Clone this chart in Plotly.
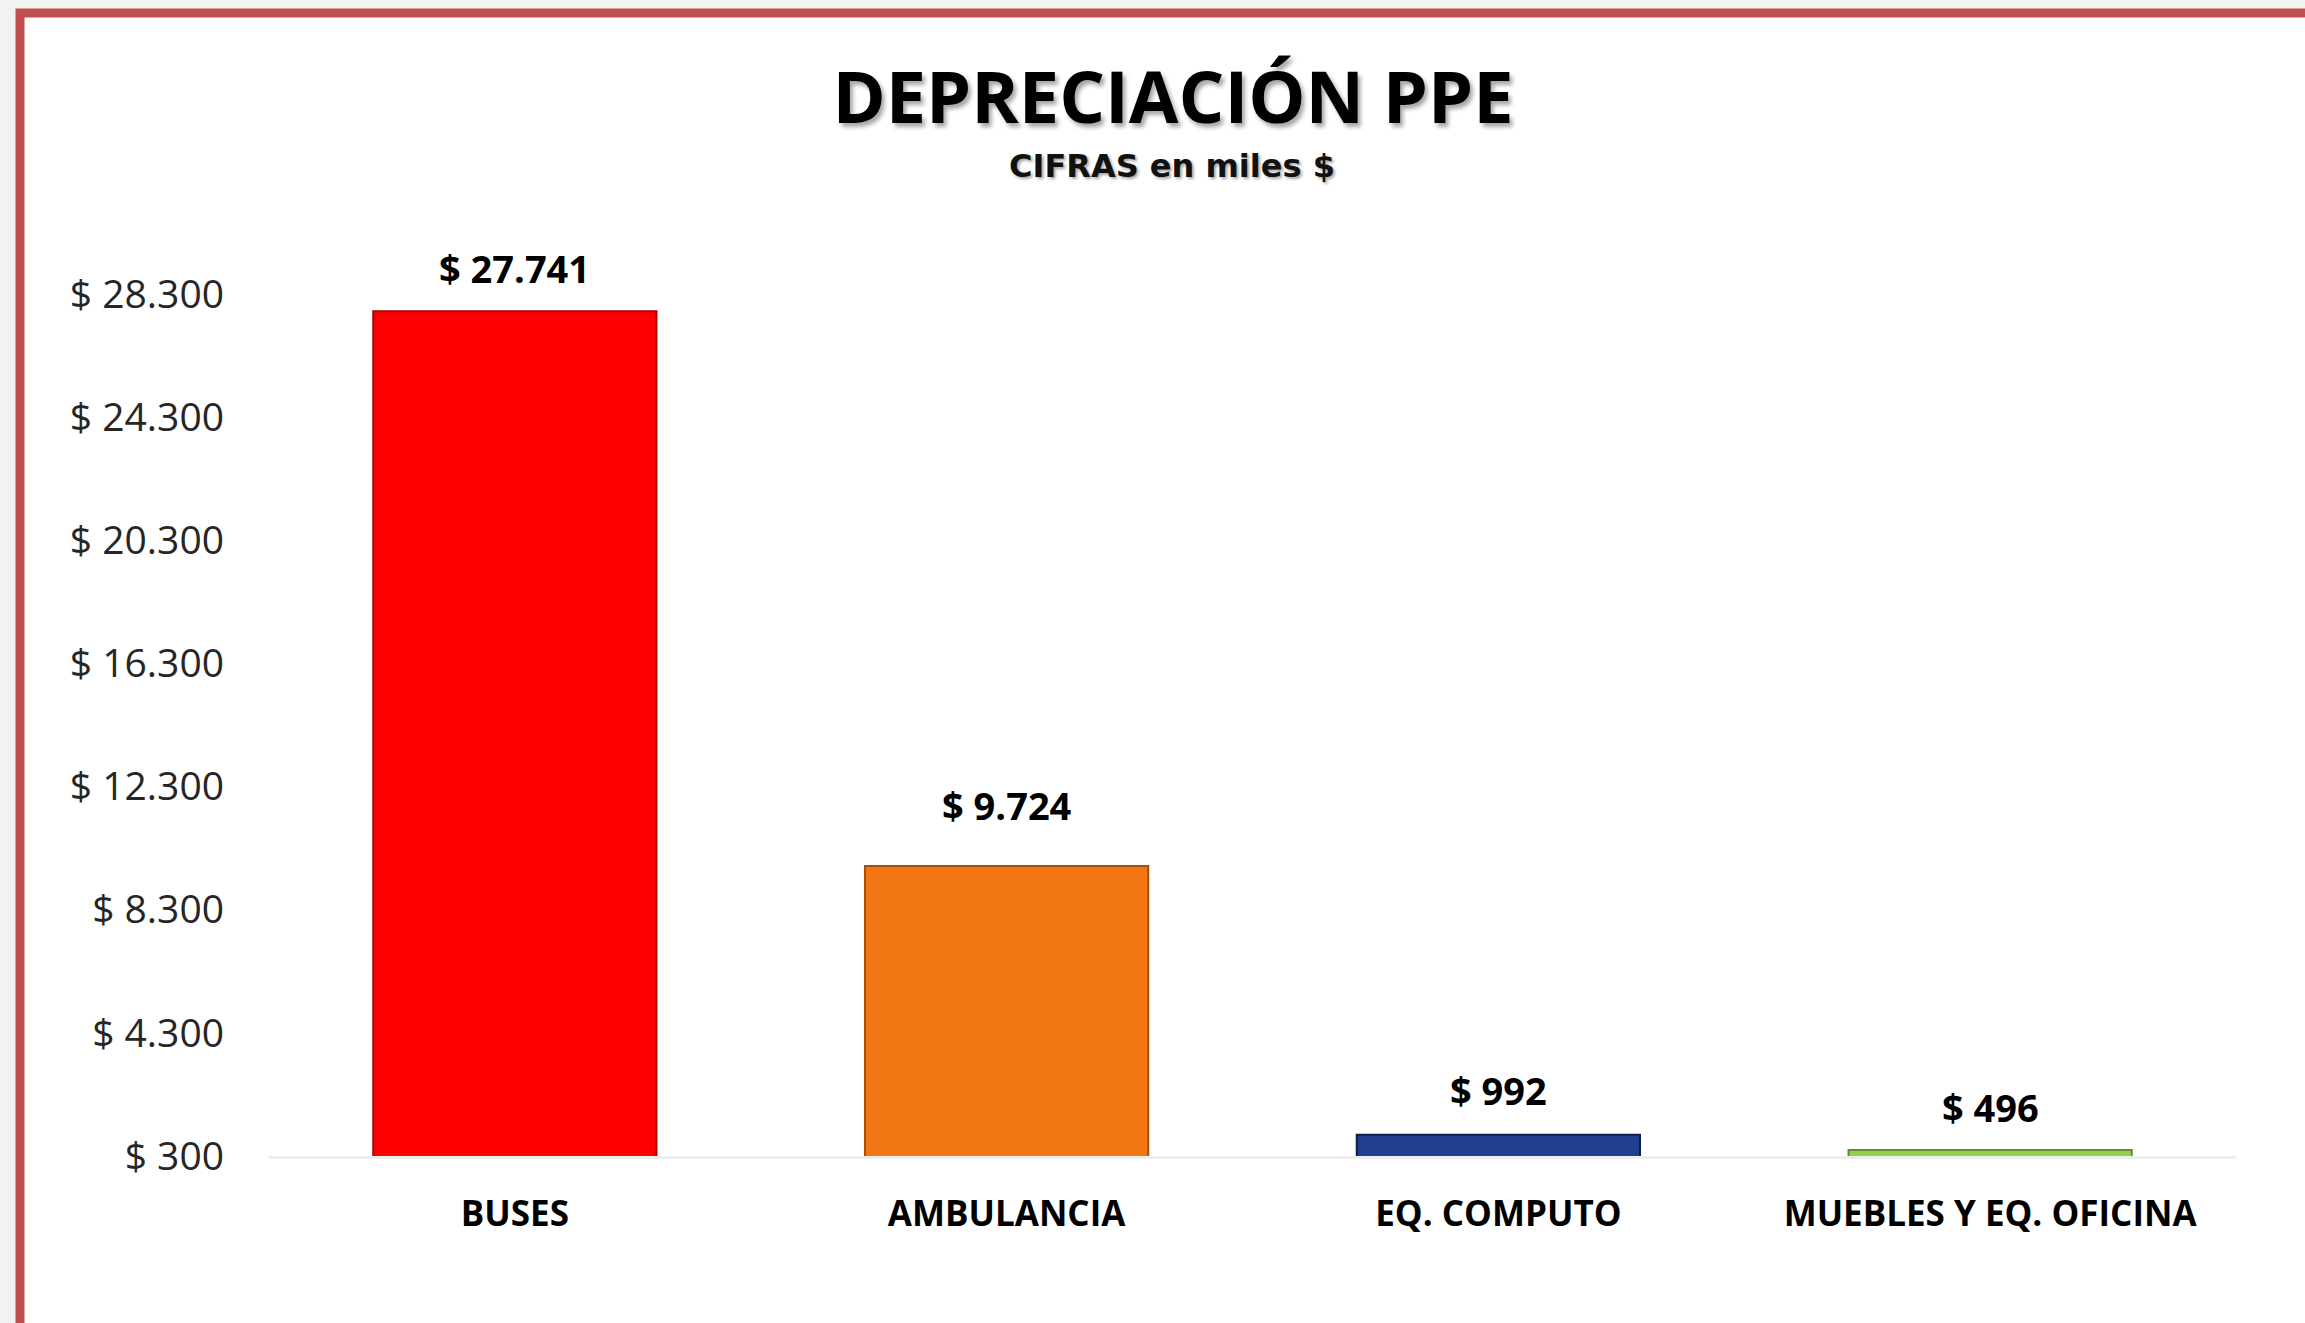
import plotly.graph_objects as go

categories = ["BUSES", "AMBULANCIA", "EQ. COMPUTO", "MUEBLES Y EQ. OFICINA"]
values = [27741, 9724, 992, 496]
bar_colors = ["#FF0000", "#F07613", "#203F8C", "#92D050"]
edge_colors = ["#B00000", "#A84E08", "#0F1F4A", "#5E8F2A"]
tick_values = [300, 4300, 8300, 12300, 16300, 20300, 24300, 28300]
tick_labels = ["$ 300", "$ 4.300", "$ 8.300", "$ 12.300", "$ 16.300", "$ 20.300", "$ 24.300", "$ 28.300"]
label_offsets = [43, 61, 45, 43]


def fmt(v):
    return "$ " + f"{v:,}".replace(",", ".")


W, H = 2305, 1323
ML, MR, MT, MB = 269, 69, 294, 167
PW, PH = W - ML - MR, H - MT - MB


def px_to_paper_x(px):
    return (px - ML) / PW


def px_to_paper_y(py):
    return (H - MB - py) / PH


fig = go.Figure()
fig.add_trace(go.Bar(
    x=categories,
    y=values,
    marker=dict(color=bar_colors, line=dict(color=edge_colors, width=2)),
    hoverinfo="skip",
))

annotations = []
for c, v, off in zip(categories, values, label_offsets):
    annotations.append(dict(
        x=c, y=v, xref="x", yref="y", text=fmt(v), showarrow=False,
        yanchor="middle", yshift=off,
        font=dict(family="Open Sans", size=38, color="#000000", weight="bold"),
    ))

annotations.append(dict(
    x=px_to_paper_x(1172), y=px_to_paper_y(166), xref="paper", yref="paper",
    text="CIFRAS en miles $", showarrow=False, xanchor="center", yanchor="middle",
    font=dict(family="DejaVu Sans", size=32, color="#111111", weight="bold",
              shadow="2px 2px 3px rgba(0,0,0,0.35)"),
))

fig.update_layout(
    width=W, height=H,
    margin=dict(l=ML, r=MR, t=MT, b=MB, pad=0),
    paper_bgcolor="#F2F2F2",
    plot_bgcolor="rgba(0,0,0,0)",
    showlegend=False,
    bargap=0.424,
    title=dict(
        text="DEPRECIACIÓN PPE",
        xref="container", yref="container",
        x=1173 / W, y=1 - 98 / H, xanchor="center", yanchor="middle",
        font=dict(family="Open Sans", size=72, color="#000000", weight="bold",
                  shadow="3px 4px 4px rgba(0,0,0,0.35)"),
    ),
    xaxis=dict(
        showline=True, linecolor="#EDEDED", linewidth=3,
        showgrid=False, zeroline=False,
        ticks="", ticklabelstandoff=25,
        tickfont=dict(family="Open Sans", size=35, color="#000000", weight="bold"),
        fixedrange=True,
    ),
    yaxis=dict(
        range=[300, 28300],
        tickvals=tick_values, ticktext=tick_labels,
        showline=False, showgrid=False, zeroline=False,
        ticks="", ticklabelstandoff=44,
        tickfont=dict(family="Open Sans", size=39, color="#262626"),
        fixedrange=True,
    ),
    annotations=annotations,
    shapes=[dict(
        type="rect", xref="paper", yref="paper", layer="below",
        x0=px_to_paper_x(20), x1=px_to_paper_x(2340),
        y0=px_to_paper_y(1360), y1=px_to_paper_y(13),
        line=dict(color="#C0504D", width=9), fillcolor="#FFFFFF",
    )],
)

fig.write_html(
    "out.html",
    config={"displayModeBar": False},
    post_script="document.body.style.margin='0';document.body.style.background='#F2F2F2';document.body.style.overflow='hidden';",
)
